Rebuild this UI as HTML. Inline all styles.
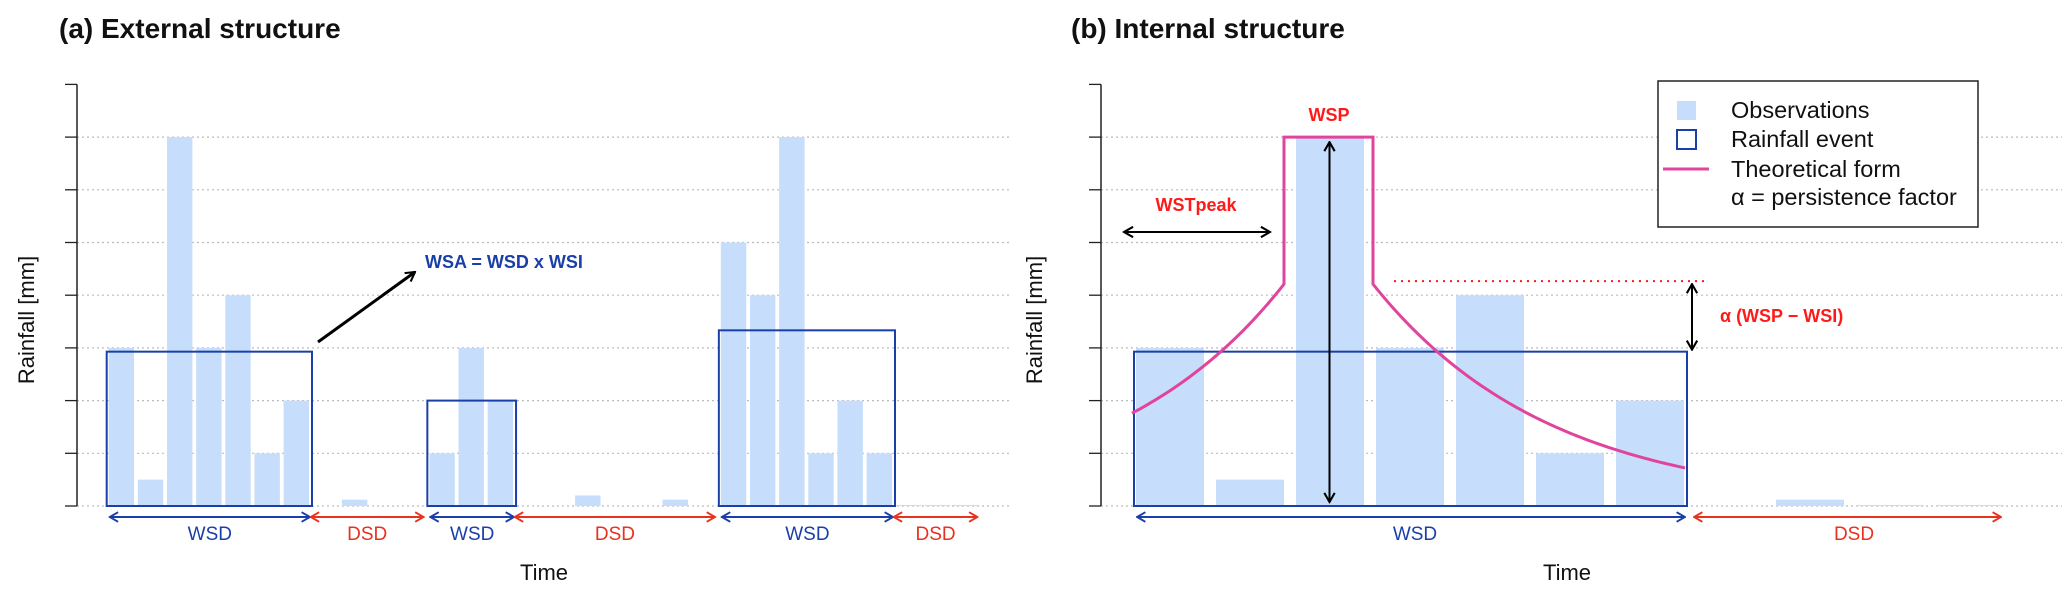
<!DOCTYPE html>
<html><head><meta charset="utf-8"><style>
body{margin:0;background:#fff;}
svg{display:block;font-family:"Liberation Sans",Arial,sans-serif;}
</style></head><body>
<svg id="c" width="2067" height="595" viewBox="0 0 2067 595" xmlns="http://www.w3.org/2000/svg">
<defs>
<marker id="ab" viewBox="0 0 10 10" refX="9" refY="5" markerWidth="12" markerHeight="12" orient="auto-start-reverse" markerUnits="userSpaceOnUse"><path d="M2,1 L9,5 L2,9" fill="none" stroke="#1a3fa8" stroke-width="1.6"/></marker>
<marker id="ar" viewBox="0 0 10 10" refX="9" refY="5" markerWidth="12" markerHeight="12" orient="auto-start-reverse" markerUnits="userSpaceOnUse"><path d="M2,1 L9,5 L2,9" fill="none" stroke="#e8321e" stroke-width="1.6"/></marker>
<marker id="ak" viewBox="0 0 10 10" refX="9" refY="5" markerWidth="13" markerHeight="13" orient="auto-start-reverse" markerUnits="userSpaceOnUse"><path d="M2,1 L9,5 L2,9" fill="none" stroke="#000" stroke-width="1.6"/></marker>
</defs>
</svg>
<script>
// ---- data ----
const obsA = [3,0.5,7,3,4,1,2, 0,0.12,0,0, 1,3,2, 0,0,0.2,0,0,0.12,0, 5,4,7,1,2,1, 0.02,0.02,0.02];
const eventsA = [[0,6],[11,13],[21,26]];
const drySpellsA = [[7,10],[14,20],[27,29]];
const obsB = [3,0.5,7,3,4,1,2, 0,0.12,0.02,0.02];
const eventB = [0,6];
const peakIndexB = 2;
const alphaLevel = 4.21;
const curveEnds = [1.76, 0.71];
const yTicks = [0,1,2,3,4,5,6,7,8];

const S = document.getElementById('c');
const NS = 'http://www.w3.org/2000/svg';
function mk(tag, attrs, parent){const e=document.createElementNS(NS,tag);for(const k in attrs)e.setAttribute(k,attrs[k]);(parent||S).appendChild(e);return e;}
function tx(str, attrs){const e=mk('text',attrs);e.textContent=str;return e;}

const Y0=506, UNIT=52.7;
const yS = v => Y0 - v*UNIT;
const BLUE='#1a3fa8', RED='#e8321e', BAR='#c6ddfb', PINK='#e0449c', TRED='#ff1a1a';

function panel(p){
  yTicks.forEach(t=>{
    if(t>0 && t<8){const g=mk('line',{x1:p.ax,x2:p.gx2,y1:yS(t),y2:yS(t),stroke:'#bbb','stroke-width':1.2,'stroke-dasharray':'2,3'});
    
    }
    const tk=mk('line',{x1:p.ax-12,x2:p.ax,y1:yS(t),y2:yS(t),stroke:'#222','stroke-width':1.3});
    
    
  });
  const base=mk('line',{x1:p.ax,x2:p.gx2,y1:Y0,y2:Y0,stroke:'#bbb','stroke-width':1.2,'stroke-dasharray':'2,3'});
  
  
  const ax=mk('line',{x1:p.ax,x2:p.ax,y1:yS(8),y2:Y0,stroke:'#222','stroke-width':1.5});
  
  
  p.obs.forEach((v,i)=>{
    const b=mk('rect',{x:p.xs(i),y:yS(v),width:p.bw,height:v*UNIT,fill:BAR});
    
    
  });
  const t=tx(p.title,{x:p.tx,y:38,'font-size':28,'font-weight':'bold',fill:'#111'});
  
  
  const yl=tx('Rainfall [mm]',{x:0,y:0,'font-size':22,fill:'#111','text-anchor':'middle',transform:`translate(${p.ylx},320) rotate(-90)`});
  
  
  const tl=tx('Time',{x:p.timeX,y:580,'font-size':22,fill:'#111','text-anchor':'middle'});
  
  
}
function mean(arr,a,b){let s=0;for(let i=a;i<=b;i++)s+=arr[i];return s/(b-a+1);}
function eventRect(p,a,b){
  const m=mean(p.obs,a,b);
  const r=mk('rect',{x:p.xs(a)-2,y:yS(m),width:p.xs(b)+p.bw+5-p.xs(a),height:m*UNIT,fill:'none',stroke:BLUE,'stroke-width':2});
  
  
}
function spanArrow(x1,x2,wet,lblx){
  const l=mk('line',{x1:x1,x2:x2,y1:517,y2:517,stroke:wet?BLUE:RED,'stroke-width':2,'marker-start':wet?'url(#ab)':'url(#ar)','marker-end':wet?'url(#ab)':'url(#ar)'});
  
  
  const t=tx(wet?'WSD':'DSD',{x:lblx,y:540,'font-size':19,fill:wet?BLUE:RED,'text-anchor':'middle'});
  
  
}

// ---- panel a ----
const pA={obs:obsA,ax:77,gx2:1012,bw:25.4,xs:i=>108.7+i*29.15,title:'(a) External structure',tx:59,ylx:34,timeX:544};
panel(pA);
eventsA.forEach(e=>eventRect(pA,e[0],e[1]));
eventsA.forEach(e=>{const x1=pA.xs(e[0])+1,x2=pA.xs(e[1])+pA.bw+1;spanArrow(x1,x2,true,(x1+x2)/2);});
drySpellsA.forEach(e=>{const x1=pA.xs(e[0])-2,x2=pA.xs(e[1])+pA.bw-2;spanArrow(x1,x2,false,(x1+x2)/2);});
const wa=mk('line',{x1:318,y1:342,x2:415,y2:272,stroke:'#000','stroke-width':3,'marker-end':'url(#ak)'});


const wt=tx('WSA = WSD x WSI',{x:425,y:268,'font-size':18,'font-weight':'bold',fill:BLUE});



// ---- panel b ----
const pB={obs:obsB,ax:1101,gx2:2062,bw:68,xs:i=>1136+i*80,title:'(b) Internal structure',tx:1071,ylx:1042,timeX:1567};
panel(pB);
eventRect(pB,eventB[0],eventB[1]);
{const x1=pB.xs(0)+1,x2=pB.xs(6)+pB.bw+1;spanArrow(x1,x2,true,1415);}
spanArrow(1694,2001,false,1854);
const peak=obsB[peakIndexB];
const xl=1284, xr=1373, kL=Math.log(alphaLevel/curveEnds[0])/(xl-1132), kR=Math.log(alphaLevel/curveEnds[1])/(1688-xr);
let d=`M1132,${yS(curveEnds[0])}`;
for(let x=1132;x<=xl;x+=4)d+=` L${x},${yS(alphaLevel*Math.exp(-kL*(xl-x)))}`;
d+=` L${xl},${yS(alphaLevel)} L${xl},${yS(peak)} L${xr},${yS(peak)} L${xr},${yS(alphaLevel)}`;
for(let x=xr;x<=1688;x+=4)d+=` L${x},${yS(alphaLevel*Math.exp(-kR*(x-xr)))}`;
const cv=mk('path',{d:d,fill:'none',stroke:PINK,'stroke-width':3});


const va=mk('line',{x1:1329.5,x2:1329.5,y1:yS(peak)+5,y2:Y0-4,stroke:'#000','stroke-width':2,'marker-start':'url(#ak)','marker-end':'url(#ak)'});


const wsp=tx('WSP',{x:1329,y:121,'font-size':18,'font-weight':'bold',fill:TRED,'text-anchor':'middle'});


const wst=tx('WSTpeak',{x:1196,y:211,'font-size':18,'font-weight':'bold',fill:TRED,'text-anchor':'middle'});


const ha=mk('line',{x1:1124,x2:1270,y1:232,y2:232,stroke:'#000','stroke-width':2,'marker-start':'url(#ak)','marker-end':'url(#ak)'});


const rd=mk('line',{x1:1394,x2:1704,y1:yS(alphaLevel)-3,y2:yS(alphaLevel)-3,stroke:TRED,'stroke-width':2,'stroke-dasharray':'2,5'});


const aa=mk('line',{x1:1692,x2:1692,y1:yS(alphaLevel),y2:yS(mean(obsB,0,6))-2,stroke:'#000','stroke-width':2,'marker-start':'url(#ak)','marker-end':'url(#ak)'});


const al=tx('α (WSP − WSI)',{x:1720,y:322,'font-size':18,'font-weight':'bold',fill:TRED});


const lg=mk('rect',{x:1658,y:81,width:320,height:146,fill:'#fff',stroke:'#222','stroke-width':1.5});


const l1=mk('rect',{x:1677,y:101,width:19,height:19,fill:BAR});


const l2=mk('rect',{x:1677,y:130,width:19,height:19,fill:'none',stroke:BLUE,'stroke-width':2});


const l3=mk('line',{x1:1663,x2:1709,y1:169,y2:169,stroke:PINK,'stroke-width':3});


[['Observations',118],['Rainfall event',147],['Theoretical form',177],['α = persistence factor',205]].forEach(a=>{
  const t=tx(a[0],{x:1731,y:a[1],'font-size':23.5,fill:'#111'});
  
  
});
</script>
</body></html>
